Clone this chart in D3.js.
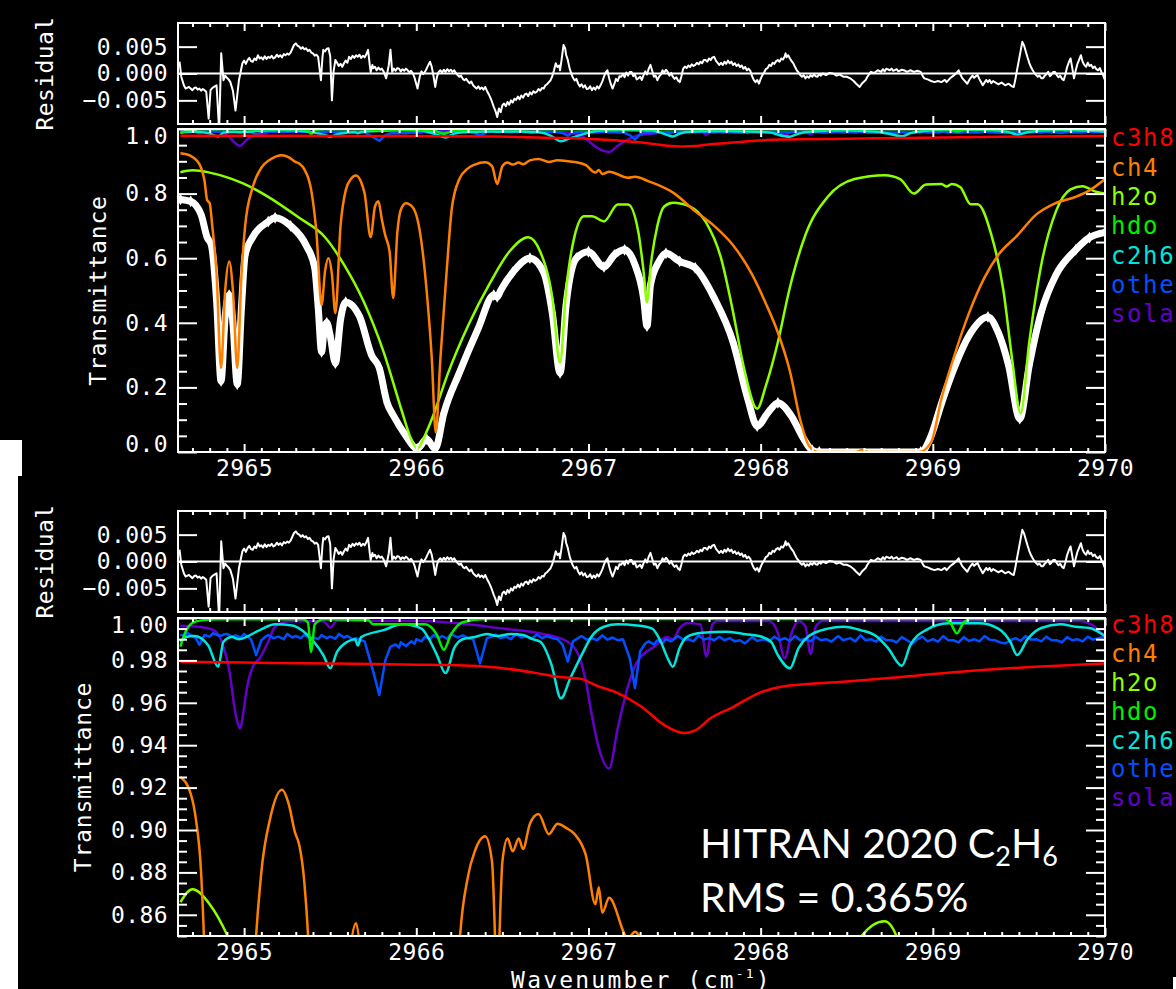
<!DOCTYPE html>
<html>
<head>
<meta charset="utf-8">
<script src="https://cdn.jsdelivr.net/npm/d3@7"></script>
<style>
  body { margin: 0; background: #fff; }
</style>
</head>
<body>
<script>
// wavenumber (cm-1), value pairs
const observed = [
  [2964.63, 0.782], [2964.69, 0.776], [2964.75, 0.735], [2964.785, 0.665], [2964.81, 0.64],
  [2964.84, 0.47], [2964.866, 0.22], [2964.89, 0.42], [2964.913, 0.486], [2964.935, 0.40],
  [2964.96, 0.21], [2964.985, 0.45], [2965.006, 0.61], [2965.05, 0.665], [2965.14, 0.713],
  [2965.18, 0.725], [2965.27, 0.70], [2965.36, 0.64], [2965.41, 0.57], [2965.43, 0.45],
  [2965.45, 0.31], [2965.465, 0.38], [2965.48, 0.40], [2965.50, 0.36], [2965.53, 0.275],
  [2965.56, 0.41], [2965.59, 0.464], [2965.67, 0.42], [2965.74, 0.30], [2965.785, 0.26],
  [2965.83, 0.153], [2965.87, 0.11], [2965.94, 0.05], [2966.006, 0.01], [2966.06, 0.04],
  [2966.11, 0.01], [2966.16, 0.12], [2966.25, 0.245], [2966.36, 0.383], [2966.45, 0.486],
  [2966.47, 0.48], [2966.49, 0.50], [2966.56, 0.556], [2966.66, 0.60], [2966.74, 0.556],
  [2966.79, 0.43], [2966.835, 0.245], [2966.87, 0.455], [2966.93, 0.60], [2967.0, 0.62],
  [2967.09, 0.573], [2967.15, 0.61], [2967.21, 0.626], [2967.27, 0.58], [2967.32, 0.476],
  [2967.34, 0.39], [2967.36, 0.517], [2967.41, 0.59], [2967.45, 0.615], [2967.53, 0.59],
  [2967.62, 0.57], [2967.73, 0.477], [2967.84, 0.34], [2967.925, 0.165], [2967.98, 0.08],
  [2968.04, 0.12], [2968.10, 0.152], [2968.18, 0.11], [2968.24, 0.05], [2968.30, 0.005],
  [2968.34, 0.0], [2968.93, 0.0], [2968.99, 0.05], [2969.05, 0.15], [2969.13, 0.268],
  [2969.21, 0.36], [2969.32, 0.418], [2969.38, 0.37], [2969.44, 0.268], [2969.505, 0.103],
  [2969.56, 0.268], [2969.63, 0.433], [2969.715, 0.548], [2969.83, 0.626], [2969.91, 0.664],
  [2970.0, 0.68]
];

const ch4 = [
  [2964.63, 0.925], [2964.69, 0.917], [2964.72, 0.905], [2964.75, 0.88], [2964.77, 0.84],
  [2964.785, 0.78], [2964.80, 0.77], [2964.815, 0.70], [2964.84, 0.55], [2964.866, 0.26],
  [2964.89, 0.50], [2964.913, 0.59], [2964.935, 0.50], [2964.96, 0.26], [2964.985, 0.55],
  [2965.006, 0.70], [2965.05, 0.82], [2965.10, 0.88], [2965.15, 0.905], [2965.22, 0.919],
  [2965.26, 0.912], [2965.295, 0.899], [2965.32, 0.893], [2965.35, 0.875], [2965.39, 0.81],
  [2965.42, 0.68], [2965.45, 0.455], [2965.47, 0.56], [2965.49, 0.60], [2965.51, 0.55],
  [2965.53, 0.43], [2965.56, 0.70], [2965.59, 0.81], [2965.62, 0.845], [2965.65, 0.856],
  [2965.68, 0.835], [2965.70, 0.80], [2965.735, 0.665], [2965.76, 0.76], [2965.78, 0.776],
  [2965.80, 0.72], [2965.82, 0.67], [2965.845, 0.62], [2965.866, 0.477], [2965.89, 0.68],
  [2965.91, 0.75], [2965.94, 0.77], [2965.98, 0.757], [2966.03, 0.65], [2966.06, 0.50],
  [2966.09, 0.29], [2966.113, 0.06], [2966.14, 0.29], [2966.175, 0.55], [2966.207, 0.757],
  [2966.25, 0.845], [2966.30, 0.878], [2966.34, 0.89], [2966.40, 0.897], [2966.44, 0.885],
  [2966.47, 0.83], [2966.50, 0.885], [2966.53, 0.896], [2966.56, 0.89], [2966.595, 0.896],
  [2966.62, 0.891], [2966.66, 0.903], [2966.71, 0.9075], [2966.77, 0.898], [2966.82, 0.903],
  [2966.87, 0.901], [2966.92, 0.898], [2966.985, 0.888], [2967.04, 0.865], [2967.06, 0.873],
  [2967.08, 0.861], [2967.12, 0.868], [2967.23, 0.849], [2967.27, 0.852], [2967.35, 0.838],
  [2967.50, 0.80], [2967.62, 0.745], [2967.73, 0.70], [2967.84, 0.64], [2967.95, 0.55],
  [2968.03, 0.46], [2968.10, 0.37], [2968.17, 0.25], [2968.23, 0.10], [2968.28, 0.02],
  [2968.33, 0.0], [2968.55, 0.0], [2968.59, 0.006], [2968.63, 0.0], [2968.92, 0.0],
  [2968.99, 0.03], [2969.05, 0.165], [2969.12, 0.29], [2969.21, 0.43], [2969.30, 0.54],
  [2969.38, 0.61], [2969.49, 0.67], [2969.60, 0.735], [2969.71, 0.77], [2969.83, 0.79],
  [2969.91, 0.81], [2970.0, 0.845]
];

const h2o = [
  [2964.63, 0.866], [2964.70, 0.872], [2964.80, 0.865], [2964.915, 0.848], [2965.0, 0.83],
  [2965.14, 0.79], [2965.32, 0.725], [2965.47, 0.665], [2965.58, 0.58], [2965.695, 0.465],
  [2965.81, 0.31], [2965.92, 0.12], [2965.97, 0.04], [2966.006, 0.01], [2966.04, 0.04],
  [2966.096, 0.11], [2966.185, 0.245], [2966.30, 0.39], [2966.43, 0.525], [2966.54, 0.62],
  [2966.65, 0.665], [2966.72, 0.62], [2966.79, 0.477], [2966.835, 0.277], [2966.87, 0.50],
  [2966.92, 0.67], [2966.975, 0.73], [2967.02, 0.73], [2967.09, 0.714], [2967.17, 0.766],
  [2967.23, 0.766], [2967.29, 0.68], [2967.32, 0.56], [2967.34, 0.464], [2967.36, 0.57],
  [2967.40, 0.70], [2967.44, 0.76], [2967.49, 0.772], [2967.59, 0.76], [2967.68, 0.713],
  [2967.77, 0.60], [2967.84, 0.433], [2967.90, 0.268], [2967.98, 0.134], [2968.03, 0.205],
  [2968.10, 0.34], [2968.17, 0.51], [2968.26, 0.672], [2968.39, 0.79], [2968.545, 0.845],
  [2968.72, 0.857], [2968.81, 0.845], [2968.89, 0.80], [2968.96, 0.828], [2969.05, 0.83],
  [2969.08, 0.822], [2969.11, 0.83], [2969.16, 0.82], [2969.22, 0.767], [2969.26, 0.767],
  [2969.34, 0.672], [2969.41, 0.50], [2969.46, 0.29], [2969.51, 0.12], [2969.56, 0.34],
  [2969.63, 0.58], [2969.715, 0.745], [2969.80, 0.813], [2969.87, 0.823], [2969.94, 0.807],
  [2970.0, 0.80]
];

const hdo = [
  [2964.63, 0.9865], [2964.66, 0.9935], [2964.70, 0.9977], [2964.76, 0.999], [2964.85, 0.9994],
  [2965.34, 0.9994], [2965.37, 0.998], [2965.39, 0.984], [2965.41, 0.997], [2965.46, 0.9994],
  [2965.72, 0.999], [2965.75, 0.997], [2966.05, 0.997], [2966.12, 0.992], [2966.16, 0.985],
  [2966.20, 0.992], [2966.27, 0.998], [2966.40, 0.9995], [2969.07, 0.9995], [2969.10, 0.998],
  [2969.14, 0.9928], [2969.18, 0.998], [2969.22, 0.9995], [2970.0, 0.9995]
];

const c2h6 = [
  [2964.63, 0.9888], [2964.66, 0.991], [2964.71, 0.9915], [2964.79, 0.9873], [2964.85, 0.977],
  [2964.88, 0.9888], [2964.93, 0.991], [2964.97, 0.990], [2965.09, 0.9943], [2965.18, 0.997],
  [2965.28, 0.9965], [2965.34, 0.994], [2965.405, 0.9888], [2965.46, 0.9825], [2965.50, 0.9763],
  [2965.54, 0.984], [2965.60, 0.9888], [2965.645, 0.990], [2965.66, 0.987], [2965.68, 0.991],
  [2965.81, 0.9943], [2965.92, 0.997], [2966.03, 0.995], [2966.07, 0.9906], [2966.12, 0.9825],
  [2966.17, 0.974], [2966.22, 0.9858], [2966.27, 0.990], [2966.34, 0.991], [2966.41, 0.9925],
  [2966.47, 0.9915], [2966.55, 0.9925], [2966.62, 0.992], [2966.675, 0.990], [2966.72, 0.9888],
  [2966.785, 0.978], [2966.84, 0.9621], [2966.895, 0.9717], [2966.96, 0.9825], [2967.02, 0.9915],
  [2967.09, 0.9959], [2967.17, 0.997], [2967.28, 0.9965], [2967.37, 0.995], [2967.42, 0.9888],
  [2967.46, 0.981], [2967.49, 0.977], [2967.53, 0.986], [2967.57, 0.991], [2967.66, 0.993],
  [2967.80, 0.9935], [2967.90, 0.9925], [2967.99, 0.9915], [2968.06, 0.9888], [2968.10, 0.9825],
  [2968.17, 0.9763], [2968.22, 0.9858], [2968.28, 0.9915], [2968.39, 0.995], [2968.48, 0.9959],
  [2968.58, 0.9943], [2968.67, 0.9915], [2968.74, 0.9858], [2968.82, 0.9775], [2968.87, 0.9873],
  [2968.96, 0.9943], [2969.09, 0.9975], [2969.27, 0.9975], [2969.38, 0.995], [2969.45, 0.9888],
  [2969.49, 0.9825], [2969.55, 0.990], [2969.63, 0.9953], [2969.74, 0.997], [2969.83, 0.9959],
  [2969.91, 0.9953], [2970.0, 0.9915]
];

const other = [
  [2964.63, 0.9923], [2964.65, 0.9915], [2964.67, 0.9930], [2964.70, 0.9915], [2964.72, 0.9905],
  [2964.74, 0.9873], [2964.77, 0.9920], [2964.80, 0.9912], [2964.82, 0.9928], [2964.86, 0.9915],
  [2964.88, 0.9922], [2964.90, 0.9925], [2964.93, 0.9912], [2964.95, 0.9918], [2964.98, 0.9908],
  [2965.00, 0.9925], [2965.04, 0.9900], [2965.07, 0.9825], [2965.10, 0.9895], [2965.12, 0.9910],
  [2965.14, 0.9920], [2965.17, 0.9905], [2965.20, 0.9912], [2965.23, 0.9900], [2965.25, 0.9925],
  [2965.28, 0.9908], [2965.30, 0.9915], [2965.33, 0.9905], [2965.35, 0.9922], [2965.38, 0.9902],
  [2965.40, 0.9910], [2965.43, 0.9900], [2965.45, 0.9920], [2965.48, 0.9905], [2965.50, 0.9912],
  [2965.53, 0.9902], [2965.55, 0.9925], [2965.58, 0.9908], [2965.60, 0.9915], [2965.63, 0.9900],
  [2965.65, 0.9905], [2965.68, 0.9895], [2965.70, 0.9890], [2965.75, 0.9747], [2965.785, 0.9637],
  [2965.82, 0.9800], [2965.85, 0.9865], [2965.88, 0.9875], [2965.90, 0.9860], [2965.91, 0.9885],
  [2965.94, 0.9868], [2965.97, 0.9890], [2965.99, 0.9878], [2966.00, 0.9900], [2966.03, 0.9890],
  [2966.05, 0.9912], [2966.08, 0.9900], [2966.10, 0.9920], [2966.13, 0.9905], [2966.15, 0.9915],
  [2966.18, 0.9902], [2966.20, 0.9925], [2966.24, 0.9908], [2966.27, 0.9918], [2966.30, 0.9905],
  [2966.33, 0.9900], [2966.37, 0.9786], [2966.41, 0.9905], [2966.44, 0.9912], [2966.46, 0.9922],
  [2966.49, 0.9905], [2966.52, 0.9912], [2966.55, 0.9900], [2966.58, 0.9925], [2966.61, 0.9908],
  [2966.64, 0.9915], [2966.67, 0.9902], [2966.70, 0.9922], [2966.73, 0.9905], [2966.76, 0.9915],
  [2966.79, 0.9905], [2966.82, 0.9900], [2966.85, 0.9873], [2966.88, 0.9794], [2966.91, 0.9890],
  [2966.94, 0.9905], [2966.96, 0.9915], [2966.99, 0.9898], [2967.02, 0.9905], [2967.05, 0.9895],
  [2967.08, 0.9918], [2967.11, 0.9898], [2967.14, 0.9908], [2967.17, 0.9895], [2967.20, 0.9900],
  [2967.24, 0.9810], [2967.27, 0.9670], [2967.30, 0.9843], [2967.33, 0.9880], [2967.35, 0.9890],
  [2967.38, 0.9875], [2967.40, 0.9895], [2967.43, 0.9882], [2967.45, 0.9900], [2967.48, 0.9890],
  [2967.52, 0.9915], [2967.55, 0.9898], [2967.58, 0.9900], [2967.61, 0.9890], [2967.64, 0.9918],
  [2967.67, 0.9898], [2967.70, 0.9905], [2967.73, 0.9895], [2967.76, 0.9912], [2967.79, 0.9895],
  [2967.82, 0.9905], [2967.85, 0.9890], [2967.88, 0.9895], [2967.91, 0.9880], [2967.95, 0.9910],
  [2967.98, 0.9892], [2968.02, 0.9900], [2968.05, 0.9890], [2968.08, 0.9912], [2968.11, 0.9895],
  [2968.14, 0.9905], [2968.17, 0.9892], [2968.20, 0.9915], [2968.23, 0.9895], [2968.26, 0.9902],
  [2968.29, 0.9890], [2968.32, 0.9912], [2968.35, 0.9895], [2968.38, 0.9900], [2968.41, 0.9888],
  [2968.45, 0.9915], [2968.48, 0.9895], [2968.52, 0.9905], [2968.55, 0.9890], [2968.58, 0.9918],
  [2968.61, 0.9895], [2968.64, 0.9900], [2968.67, 0.9888], [2968.70, 0.9912], [2968.73, 0.9895],
  [2968.76, 0.9895], [2968.79, 0.9885], [2968.82, 0.9910], [2968.85, 0.9895], [2968.88, 0.9880],
  [2968.91, 0.9900], [2968.94, 0.9912], [2968.97, 0.9890], [2969.00, 0.9900], [2969.03, 0.9888],
  [2969.06, 0.9915], [2969.09, 0.9895], [2969.12, 0.9895], [2969.15, 0.9885], [2969.18, 0.9910],
  [2969.21, 0.9892], [2969.24, 0.9900], [2969.27, 0.9890], [2969.30, 0.9915], [2969.33, 0.9898],
  [2969.36, 0.9895], [2969.39, 0.9885], [2969.42, 0.9880], [2969.45, 0.9895], [2969.48, 0.9905],
  [2969.51, 0.9892], [2969.54, 0.9915], [2969.57, 0.9898], [2969.60, 0.9900], [2969.63, 0.9890],
  [2969.66, 0.9912], [2969.69, 0.9895], [2969.72, 0.9895], [2969.75, 0.9885], [2969.78, 0.9910],
  [2969.81, 0.9895], [2969.84, 0.9900], [2969.87, 0.9890], [2969.90, 0.9912], [2969.93, 0.9898],
  [2969.96, 0.9905], [2970.0, 0.9912]
];

const solar = [
  [2964.63, 0.9964], [2964.75, 0.9958], [2964.83, 0.994], [2964.87, 0.9888], [2964.915, 0.9747],
  [2964.95, 0.955], [2964.977, 0.948], [2965.0, 0.958], [2965.016, 0.967], [2965.05, 0.977],
  [2965.09, 0.981], [2965.14, 0.9888], [2965.18, 0.996], [2965.25, 0.9984], [2965.46, 0.9985],
  [2965.50, 0.9955], [2965.54, 0.9987], [2966.0, 0.9987], [2966.3, 0.997], [2966.50, 0.995],
  [2966.70, 0.993], [2966.88, 0.9888], [2966.95, 0.981], [2966.985, 0.97], [2967.02, 0.954],
  [2967.05, 0.942], [2967.12, 0.929], [2967.17, 0.948], [2967.23, 0.968], [2967.28, 0.979],
  [2967.39, 0.987], [2967.455, 0.991], [2967.49, 0.990], [2967.53, 0.9953], [2967.58, 0.9977],
  [2967.65, 0.997], [2967.685, 0.9818], [2967.72, 0.997], [2967.75, 0.9986], [2968.05, 0.9986],
  [2968.10, 0.993], [2968.14, 0.981], [2968.18, 0.993], [2968.22, 0.9986], [2968.26, 0.996],
  [2968.29, 0.983], [2968.32, 0.996], [2968.36, 0.9986], [2969.85, 0.9986], [2969.92, 0.997],
  [2970.0, 0.991]
];

const c3h8 = [
  [2964.63, 0.9794], [2965.0, 0.979], [2965.5, 0.9785], [2966.0, 0.978], [2966.2, 0.9778],
  [2966.47, 0.9766], [2966.70, 0.974], [2966.83, 0.9722], [2966.95, 0.9714], [2967.05, 0.968],
  [2967.17, 0.9646], [2967.31, 0.958], [2967.44, 0.9495], [2967.555, 0.9457], [2967.62, 0.947],
  [2967.71, 0.9528], [2967.84, 0.958], [2967.99, 0.9646], [2968.12, 0.9676], [2968.50, 0.970],
  [2968.83, 0.9723], [2969.16, 0.9747], [2969.60, 0.977], [2970.0, 0.9786]
];

// residual in units of 1e-3
const residual = [
  [2964.625, 2.2], [2964.635, -0.6], [2964.65, -2.2], [2964.66, -2.8], [2964.68, -2.5],
  [2964.70, -3.1], [2964.71, -2.7], [2964.72, -2.6], [2964.73, -3.0], [2964.74, -2.8],
  [2964.75, -3.2], [2964.76, -2.9], [2964.77, -3.1], [2964.78, -3.4], [2964.794, -8.4],
  [2964.805, -3.1], [2964.815, -2.7], [2964.825, -2.5], [2964.84, -2.2], [2964.855, -10.6],
  [2964.867, 3.75], [2964.88, -1.25], [2964.89, -0.4], [2964.90, -0.8], [2964.91, -1.1],
  [2964.92, -1.6], [2964.935, -3.2], [2964.95, -6.9], [2964.97, -1.25], [2964.99, 1.9],
  [2965.00, 2.4], [2965.01, 1.8], [2965.02, 2.5], [2965.03, 2.9], [2965.04, 2.3],
  [2965.05, 2.2], [2965.06, 2.8], [2965.07, 2.5], [2965.08, 3.4], [2965.09, 2.8],
  [2965.10, 3.0], [2965.11, 2.6], [2965.12, 3.2], [2965.13, 2.7], [2965.14, 3.1],
  [2965.15, 2.9], [2965.16, 3.3], [2965.17, 2.8], [2965.18, 3.0], [2965.19, 3.5],
  [2965.20, 3.1], [2965.21, 3.4], [2965.22, 3.0], [2965.23, 3.6], [2965.24, 3.4],
  [2965.25, 3.7], [2965.26, 3.5], [2965.27, 3.9], [2965.28, 4.6], [2965.29, 5.3],
  [2965.30, 5.6], [2965.31, 5.2], [2965.32, 5.0], [2965.33, 4.6], [2965.34, 4.9],
  [2965.35, 4.5], [2965.36, 4.7], [2965.37, 4.2], [2965.38, 4.4], [2965.39, 3.9],
  [2965.40, 3.75], [2965.41, 3.3], [2965.42, 3.5], [2965.43, 3.1], [2965.446, -1.25],
  [2965.455, 3.0], [2965.46, 4.4], [2965.47, 4.1], [2965.48, 4.6], [2965.49, 4.7],
  [2965.50, 3.2], [2965.51, -5.0], [2965.52, 0.5], [2965.53, 2.5], [2965.54, 2.0],
  [2965.55, 1.4], [2965.56, 1.8], [2965.57, 1.25], [2965.58, 1.9], [2965.59, 2.4],
  [2965.60, 2.0], [2965.61, 3.1], [2965.62, 2.7], [2965.63, 3.3], [2965.64, 2.9],
  [2965.65, 3.4], [2965.66, 3.1], [2965.67, 3.5], [2965.68, 2.9], [2965.69, 3.3],
  [2965.70, 3.0], [2965.71, 3.6], [2965.72, 4.4], [2965.73, 1.5], [2965.735, 0.3],
  [2965.745, 1.6], [2965.75, 1.0], [2965.76, 1.25], [2965.77, 0.6], [2965.78, 1.1],
  [2965.79, 0.7], [2965.80, 0.9], [2965.81, 0.4], [2965.825, -0.9], [2965.84, 1.5],
  [2965.85, 4.4], [2965.86, 0.3], [2965.87, 0.9], [2965.88, 0.5], [2965.89, 1.0],
  [2965.90, 0.9], [2965.91, 0.4], [2965.92, 0.8], [2965.93, 0.5], [2965.94, 0.9],
  [2965.95, 0.6], [2965.96, 0.2], [2965.97, 0.5], [2965.98, 0], [2965.99, -0.8],
  [2966.007, -2.8], [2966.02, -0.6], [2966.03, 0.4], [2966.04, -0.1], [2966.05, 0.3],
  [2966.06, 0.9], [2966.07, 1.6], [2966.08, 2.2], [2966.09, 1.2], [2966.10, -0.5],
  [2966.11, -2.5], [2966.12, -0.6], [2966.13, 0.3], [2966.14, 0.6], [2966.15, 0.2],
  [2966.16, 0.7], [2966.17, 0.3], [2966.18, 0.8], [2966.19, 0.4], [2966.20, 0.7],
  [2966.21, 0.3], [2966.22, 0.6], [2966.23, 0.1], [2966.24, -0.3], [2966.25, -0.6],
  [2966.26, -0.4], [2966.27, -1.0], [2966.28, -1.25], [2966.29, -1.0], [2966.30, -1.5],
  [2966.31, -1.8], [2966.32, -1.5], [2966.33, -2.2], [2966.34, -2.5], [2966.35, -2.8],
  [2966.36, -2.4], [2966.37, -2.9], [2966.38, -2.6], [2966.39, -3.0], [2966.40, -2.5],
  [2966.41, -3.2], [2966.42, -3.8], [2966.43, -4.5], [2966.44, -5.3], [2966.45, -6.2],
  [2966.46, -7.0], [2966.47, -8.1], [2966.48, -6.5], [2966.49, -7.2], [2966.50, -5.9],
  [2966.51, -5.6], [2966.52, -6.1], [2966.53, -5.3], [2966.54, -5.8], [2966.55, -5.0],
  [2966.56, -5.4], [2966.57, -4.7], [2966.58, -4.9], [2966.59, -4.3], [2966.60, -4.8],
  [2966.61, -4.1], [2966.62, -4.5], [2966.63, -3.9], [2966.64, -3.75], [2966.65, -4.2],
  [2966.66, -3.5], [2966.67, -3.9], [2966.68, -3.3], [2966.69, -3.6], [2966.70, -3.4],
  [2966.71, -2.9], [2966.72, -3.2], [2966.73, -2.7], [2966.74, -2.8], [2966.75, -2.2],
  [2966.76, -2.0], [2966.77, -1.6], [2966.78, -1.25], [2966.79, -0.5], [2966.80, 0.6],
  [2966.81, 1.9], [2966.82, 1.2], [2966.83, 1.5], [2966.835, 0.6], [2966.845, 2.8],
  [2966.855, 5.3], [2966.865, 4.6], [2966.87, 3.5], [2966.88, 2.5], [2966.89, 1.0],
  [2966.90, 0], [2966.91, -0.8], [2966.92, -1.3], [2966.93, -1.0], [2966.94, -1.9],
  [2966.95, -2.4], [2966.96, -2.0], [2966.97, -2.6], [2966.98, -2.2], [2966.99, -2.9],
  [2967.00, -2.8], [2967.01, -2.4], [2967.02, -3.1], [2967.03, -2.6], [2967.04, -3.0],
  [2967.05, -2.4], [2967.06, -2.8], [2967.07, -2.2], [2967.08, -1.5], [2967.09, -0.6],
  [2967.10, 0.2], [2967.11, 0.6], [2967.12, -0.9], [2967.13, -2.0], [2967.14, -2.8],
  [2967.15, -2.0], [2967.16, -1.0], [2967.17, -1.4], [2967.18, -0.5], [2967.19, -0.6],
  [2967.20, -0.1], [2967.21, -0.7], [2967.22, 0.2], [2967.23, -0.4], [2967.24, 0.3],
  [2967.25, 0.3], [2967.26, -0.5], [2967.27, -0.2], [2967.28, -1.1], [2967.29, -0.9],
  [2967.30, -0.6], [2967.31, -1.2], [2967.32, -0.3], [2967.33, 0.4], [2967.34, -0.2],
  [2967.35, 0.9], [2967.36, 1.6], [2967.37, 0.5], [2967.38, -0.6], [2967.39, -0.4],
  [2967.40, -1.25], [2967.41, -0.6], [2967.42, -0.2], [2967.43, 0.6], [2967.44, 0.2],
  [2967.45, 0.7], [2967.46, 0.3], [2967.47, -0.4], [2967.48, 0.1], [2967.49, -0.6],
  [2967.50, -1.0], [2967.51, -0.7], [2967.52, -1.3], [2967.53, -1.6], [2967.54, -0.5],
  [2967.55, 0.9], [2967.56, 1.3], [2967.57, 1.0], [2967.58, 1.5], [2967.59, 1.2],
  [2967.60, 1.7], [2967.61, 1.4], [2967.62, 1.6], [2967.63, 2.0], [2967.64, 1.7],
  [2967.65, 2.2], [2967.66, 1.9], [2967.67, 2.5], [2967.68, 2.5], [2967.69, 2.2],
  [2967.70, 2.8], [2967.71, 2.5], [2967.72, 3.0], [2967.73, 3.1], [2967.74, 2.4],
  [2967.75, 2.0], [2967.76, 1.6], [2967.77, 2.0], [2967.78, 1.6], [2967.79, 2.2],
  [2967.80, 1.8], [2967.81, 2.4], [2967.82, 1.9], [2967.83, 2.2], [2967.84, 1.6],
  [2967.85, 1.9], [2967.86, 1.4], [2967.87, 1.7], [2967.88, 1.2], [2967.89, 1.5],
  [2967.90, 0.9], [2967.91, 1.2], [2967.92, 0.6], [2967.93, 0.9], [2967.94, 0.5],
  [2967.95, -0.5], [2967.96, -1.2], [2967.97, -1.6], [2967.98, -1.2], [2967.99, -1.9],
  [2968.00, -1.0], [2968.01, -0.3], [2968.02, 0.2], [2968.03, 0.8], [2968.04, 1.0],
  [2968.05, 1.6], [2968.06, 1.4], [2968.07, 2.0], [2968.08, 1.8], [2968.09, 2.3],
  [2968.10, 2.5], [2968.11, 2.2], [2968.12, 2.8], [2968.13, 2.6], [2968.14, 3.2],
  [2968.145, 3.75], [2968.15, 3.0], [2968.16, 3.4], [2968.17, 2.8], [2968.18, 2.3],
  [2968.19, 1.9], [2968.20, 1.2], [2968.21, 0.6], [2968.22, 0.2], [2968.23, -0.3],
  [2968.24, -0.6], [2968.25, -0.3], [2968.26, -0.9], [2968.27, -0.5], [2968.28, -0.8],
  [2968.29, -0.3], [2968.30, -0.6], [2968.31, -0.2], [2968.32, -0.5], [2968.33, -0.6],
  [2968.34, -0.1], [2968.35, -0.4], [2968.36, 0.0], [2968.38, -0.3], [2968.40, 0.1],
  [2968.42, 0], [2968.44, -0.4], [2968.46, -0.2], [2968.48, -0.6], [2968.50, -0.6],
  [2968.52, -0.9], [2968.54, -1.4], [2968.555, -1.9], [2968.575, -2.5], [2968.59, -1.8],
  [2968.61, -1.2], [2968.62, -0.6], [2968.64, 0.3], [2968.66, 0.1], [2968.68, 0.6],
  [2968.70, 0.3], [2968.71, 0.8], [2968.72, 0.4], [2968.73, 0.9], [2968.75, 0.6],
  [2968.76, 0.9], [2968.77, 0.5], [2968.79, 0.8], [2968.80, 0.4], [2968.82, 0.7],
  [2968.84, 0.5], [2968.85, 0.3], [2968.87, 0.6], [2968.89, 0.3], [2968.91, 0.5],
  [2968.93, 0.3], [2968.94, -0.4], [2968.95, -0.9], [2968.97, -1.1], [2968.99, -1.4],
  [2969.01, -1.6], [2969.03, -1.4], [2969.05, -1.6], [2969.07, -1.2], [2969.08, -1.6],
  [2969.10, -0.9], [2969.12, -0.4], [2969.14, 0.2], [2969.15, 0.6], [2969.16, -0.2],
  [2969.17, -0.8], [2969.18, -1.2], [2969.20, -1.9], [2969.21, -1.3], [2969.22, -0.8],
  [2969.23, -0.4], [2969.24, -0.8], [2969.25, -0.5], [2969.26, -0.3], [2969.27, -1.0],
  [2969.28, -1.6], [2969.29, -2.2], [2969.30, -1.7], [2969.31, -1.2], [2969.32, -1.6],
  [2969.33, -1.2], [2969.34, -1.8], [2969.35, -1.4], [2969.36, -1.6], [2969.38, -2.0],
  [2969.40, -1.7], [2969.42, -2.2], [2969.44, -1.9], [2969.46, -2.4], [2969.47, -2.5],
  [2969.48, -1.0], [2969.49, 0.8], [2969.50, 2.5], [2969.51, 4.2], [2969.52, 5.9],
  [2969.53, 5.2], [2969.54, 4.1], [2969.55, 3.0], [2969.56, 2.0], [2969.57, 1.2],
  [2969.58, 0.6], [2969.59, 0.1], [2969.60, -0.3], [2969.61, -0.6], [2969.62, -0.4],
  [2969.63, -0.9], [2969.64, -0.9], [2969.65, -0.4], [2969.66, -0.1], [2969.67, 0.3],
  [2969.68, -0.5], [2969.69, -0.2], [2969.70, 0.3], [2969.71, 0.3], [2969.72, -0.3],
  [2969.73, -0.7], [2969.74, -0.4], [2969.75, -1.0], [2969.76, -1.25], [2969.77, -0.2],
  [2969.78, 1.2], [2969.79, 2.1], [2969.80, 2.8], [2969.81, 1.0], [2969.82, -0.9],
  [2969.83, 0.6], [2969.84, 1.8], [2969.85, 2.6], [2969.86, 3.4], [2969.87, 2.2],
  [2969.88, 1.6], [2969.89, 1.25], [2969.90, 2.0], [2969.91, 1.4], [2969.92, 1.6],
  [2969.93, 1.0], [2969.94, 1.3], [2969.95, 0.8], [2969.96, 0.6], [2969.97, 1.0],
  [2969.98, 0.2], [2969.99, -0.4], [2970.0, -1.25]
];

const legendNames  = ["c3h8", "ch4", "h2o", "hdo", "c2h6", "other", "solar"];
const legendColors = ["#ff0000", "#ff8000", "#8cff00", "#00ee00", "#00e5dc", "#0050ff", "#6400c8"];
const seriesByName = {c3h8, ch4, h2o, hdo, c2h6, other, solar};
const drawOrder = ["solar", "other", "c2h6", "hdo", "h2o", "ch4", "c3h8"];

const xMajor = [2965, 2966, 2967, 2968, 2969, 2970];
const residTicks = [-0.005, 0, 0.005];
const transTicksTop = [0, 0.2, 0.4, 0.6, 0.8, 1.0];
const transTicksBottom = [0.86, 0.88, 0.90, 0.92, 0.94, 0.96, 0.98, 1.00];

const W = 1176, H = 989;
const mono = "DejaVu Sans Mono";

const svg = d3.select("body").append("svg")
    .attr("width", W).attr("height", H);

// slide background: two pasted black images
svg.append("rect").attr("width", W).attr("height", H).attr("fill", "#fff");
svg.append("rect").attr("x", 0).attr("y", 0).attr("width", W).attr("height", 476).attr("fill", "#000");
svg.append("rect").attr("x", 0).attr("y", 440).attr("width", 22).attr("height", 36).attr("fill", "#fff");

let x = d3.scaleLinear()
    .domain([2964.616, 2970])
    .range([178, 1105]);

const xMinor = d3.range(47, 101).filter(i => i % 10 !== 0).map(i => 2960 + i / 10);

function addAxis(g, gen, tx, ty) {
  let a = g.append("g")
      .attr("transform", `translate(${tx},${ty})`)
      .call(gen);
  a.attr("color", "#fff")
   .attr("font-family", mono)
   .attr("font-size", 23)
   .attr("letter-spacing", 0.4);
  a.select(".domain").remove();
  a.selectAll(".tick line").attr("stroke-width", 2);
  return a;
}

function xTicks(g, top, bottom, labels) {
  addAxis(g, d3.axisBottom(x).tickValues(xMinor).tickSizeInner(-4).tickSizeOuter(0).tickFormat(""), 0, bottom);
  addAxis(g, d3.axisTop(x).tickValues(xMinor).tickSizeInner(-4).tickSizeOuter(0).tickFormat(""), 0, top);
  addAxis(g, d3.axisTop(x).tickValues(xMajor).tickSizeInner(-8).tickSizeOuter(0).tickFormat(""), 0, top);
  addAxis(g, d3.axisBottom(x).tickValues(xMajor).tickSizeInner(-8).tickSizeOuter(0)
      .tickPadding(8).tickFormat(labels ? d3.format("d") : ""), 0, bottom);
}

function drawFigure(f) {
  let g = svg.append("g");
  let [x0, x1] = x.range();

  // ---------- residual panel ----------
  let yR = d3.scaleLinear().domain([-0.0094, 0.0094]).range([f.rb, f.rt]);
  g.append("clipPath").attr("id", "cr" + f.id).append("rect")
      .attr("x", x0).attr("y", f.rt).attr("width", x1 - x0).attr("height", f.rb - f.rt);
  let rp = g.append("g").attr("clip-path", `url(#cr${f.id})`);
  rp.append("line")
      .attr("x1", x0).attr("x2", x1).attr("y1", yR(0)).attr("y2", yR(0))
      .attr("stroke", "#fff").attr("stroke-width", 2);
  rp.append("path")
      .datum(residual)
      .attr("fill", "none").attr("stroke", "#fff").attr("stroke-width", 2)
      .attr("stroke-linejoin", "round")
      .attr("d", d3.line().x(d => x(d[0])).y(d => yR(d[1] * 1e-3)));

  let fmtR = d => d === 0 ? "0.000" : (d < 0 ? "\u2212" : "") + Math.abs(d).toFixed(3);
  xTicks(g, f.rt, f.rb, false);
  addAxis(g, d3.axisLeft(yR).tickValues(residTicks).tickSizeInner(-19).tickSizeOuter(0)
      .tickPadding(10).tickFormat(fmtR), x0, 0);
  addAxis(g, d3.axisRight(yR).tickValues(residTicks).tickSizeInner(-19).tickSizeOuter(0)
      .tickFormat(""), x1, 0);
  g.append("rect")
      .attr("x", x0).attr("y", f.rt).attr("width", x1 - x0).attr("height", f.rb - f.rt)
      .attr("fill", "none").attr("stroke", "#fff").attr("stroke-width", 2);
  g.append("text")
      .attr("transform", `translate(45,${(f.rt + f.rb) / 2}) rotate(-90)`)
      .attr("text-anchor", "middle").attr("dy", "0.35em")
      .attr("fill", "#fff").attr("font-family", mono).attr("font-size", 23)
      .attr("letter-spacing", 0.4)
      .text("Residual");

  // ---------- transmittance panel ----------
  let yT = d3.scaleLinear().domain(f.domain).range([f.tb, f.tt]);
  g.append("clipPath").attr("id", "ct" + f.id).append("rect")
      .attr("x", x0).attr("y", f.tt).attr("width", x1 - x0).attr("height", f.tb - f.tt);
  let tp = g.append("g").attr("clip-path", `url(#ct${f.id})`);

  let line = d3.line().x(d => x(d[0])).y(d => yT(d[1])).curve(d3.curveMonotoneX);
  tp.append("path")
      .datum(observed)
      .attr("fill", "none").attr("stroke", "#fff").attr("stroke-width", 7)
      .attr("stroke-linejoin", "round")
      .attr("d", line);
  tp.selectAll(".obs")
      .data(observed)
      .enter()
        .append("path")
        .attr("class", "obs")
        .attr("transform", d => `translate(${x(d[0])},${yT(d[1])})`)
        .attr("d", d3.symbol(d3.symbolDiamond, 40))
        .attr("fill", "#fff");

  drawOrder.forEach(name => {
    let col = legendColors[legendNames.indexOf(name)];
    let gen = name === "other" ? d3.line().x(d => x(d[0])).y(d => yT(d[1])) : line;
    tp.append("path")
        .datum(seriesByName[name])
        .attr("fill", "none").attr("stroke", col).attr("stroke-width", 2.5)
        .attr("stroke-linejoin", "round")
        .attr("d", gen);
  });

  xTicks(g, f.tt, f.tb, true);
  let left = addAxis(g, d3.axisLeft(yT).tickValues(f.major).tickSizeInner(-19).tickSizeOuter(0)
      .tickPadding(10).tickFormat(d3.format(f.fmt)), x0, 0);
  left.selectAll(".tick").each(function(d) {
    let ty = yT(d), t = d3.select(this).select("text");
    if (ty - f.tt < 7) t.attr("y", f.tt + 7 - ty);
    if (f.tb - ty < 8) t.attr("y", f.tb - 8 - ty);
  });
  addAxis(g, d3.axisLeft(yT).tickValues(f.minor).tickSizeInner(-9).tickSizeOuter(0).tickFormat(""), x0, 0);
  addAxis(g, d3.axisRight(yT).tickValues(f.major).tickSizeInner(-19).tickSizeOuter(0).tickFormat(""), x1, 0);
  addAxis(g, d3.axisRight(yT).tickValues(f.minor).tickSizeInner(-9).tickSizeOuter(0).tickFormat(""), x1, 0);
  g.append("rect")
      .attr("x", x0).attr("y", f.tt).attr("width", x1 - x0).attr("height", f.tb - f.tt)
      .attr("fill", "none").attr("stroke", "#fff").attr("stroke-width", 2);
  g.append("text")
      .attr("transform", `translate(${f.titleX},${(f.tt + f.tb) / 2}) rotate(-90)`)
      .attr("text-anchor", "middle").attr("dy", "0.35em")
      .attr("fill", "#fff").attr("font-family", mono).attr("font-size", 23)
      .attr("letter-spacing", 0.8)
      .text("Transmittance");

  g.selectAll(".leg")
      .data(legendNames)
      .enter()
        .append("text")
        .attr("x", x1 + 6)
        .attr("y", (d, i) => f.legY + i * f.legDy)
        .attr("dy", "0.35em")
        .attr("fill", (d, i) => legendColors[i])
        .attr("font-family", mono).attr("font-size", 24)
        .attr("letter-spacing", 1.6)
        .text(d => d);
}

// upper figure
drawFigure({
  id: "a", rt: 23, rb: 124, tt: 129, tb: 452,
  domain: [0, 1], major: transTicksTop,
  minor: d3.range(0, 21).filter(i => i % 4 !== 0).map(i => i * 0.05),
  fmt: ".1f", titleX: 98, legY: 138, legDy: 29.3
});

// lower figure pasted on top
svg.append("rect").attr("x", 18).attr("y", 476).attr("width", W - 18).attr("height", H - 476).attr("fill", "#000");
svg.append("rect").attr("x", 1173).attr("y", 977).attr("width", 3).attr("height", 12).attr("fill", "#fff");

drawFigure({
  id: "b", rt: 511, rb: 612, tt: 618, tb: 936,
  domain: [0.85, 1.0], major: transTicksBottom,
  minor: d3.range(0, 31).filter(i => i % 4 !== 2).map(i => 0.85 + i * 0.005),
  fmt: ".2f", titleX: 83, legY: 625, legDy: 28.8
});

let xt = svg.append("text")
    .attr("x", (x.range()[0] + x.range()[1]) / 2).attr("y", 988)
    .attr("text-anchor", "middle")
    .attr("fill", "#fff").attr("font-family", mono).attr("font-size", 23)
    .attr("letter-spacing", 2.2);
xt.append("tspan").text("Wavenumber (cm");
xt.append("tspan").attr("dy", -10).attr("font-size", 13).text("-1");
xt.append("tspan").attr("dy", 10).text(")");

let note = svg.append("g")
    .attr("fill", "#fff").attr("font-family", "Lato").attr("font-size", 41);
let n1 = note.append("text").attr("x", 700).attr("y", 858);
n1.append("tspan").text("HITRAN 2020 C");
n1.append("tspan").attr("dy", 8).attr("font-size", 27).text("2");
n1.append("tspan").attr("dy", -8).text("H");
n1.append("tspan").attr("dy", 8).attr("font-size", 27).text("6");
note.append("text").attr("x", 700).attr("y", 912).text("RMS = 0.365%");
</script>
</body>
</html>
